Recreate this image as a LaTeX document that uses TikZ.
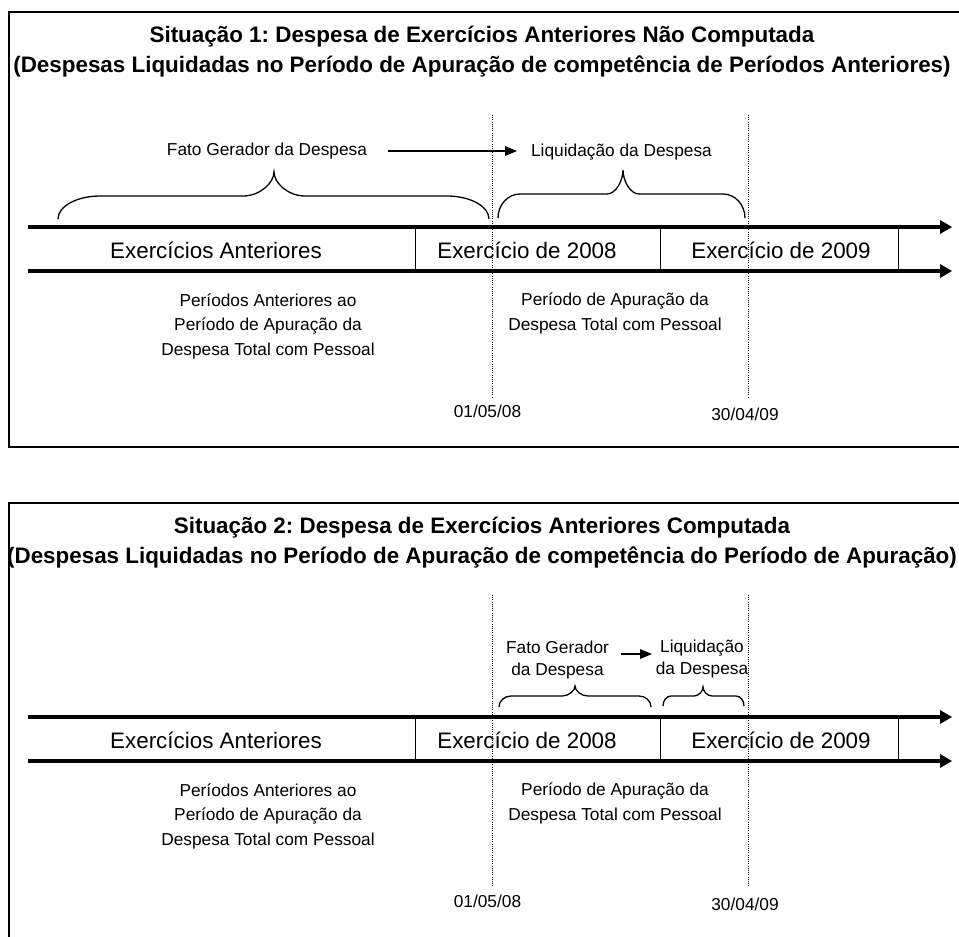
\documentclass[tikz,border=0pt]{standalone}
\usepackage{fontspec}
\setmainfont{Liberation Sans}
\usetikzlibrary{arrows.meta}
\frenchspacing
\newcommand{\cbrace}[8]{% xL xR xm ybottom yflat ytip rend rtip
  \draw[brace] (#1,#4) .. controls (#1,{#4-0.552*(#4-#5)}) and ({#1+0.448*#7},#5) .. ({#1+#7},#5)
    -- ({#3-#8},#5) .. controls ({#3-0.448*#8},#5) and (#3,{#6+0.448*(#5-#6)}) .. (#3,#6)
    .. controls (#3,{#6+0.448*(#5-#6)}) and ({#3+0.448*#8},#5) .. ({#3+#8},#5)
    -- ({#2-#7},#5) .. controls ({#2-0.448*#7},#5) and (#2,{#4-0.552*(#4-#5)}) .. (#2,#4);}
\begin{document}
\frenchspacing
\begin{tikzpicture}[x=1pt,y=-1pt,
  box/.style={line width=2pt},
  tline/.style={line width=4.5pt,-{Triangle[length=12pt,width=14pt,line width=0pt]}},
  sep/.style={line width=1pt},
  guide/.style={line width=0.8pt,dash pattern=on 1pt off 1.2pt},
  brace/.style={line width=1.3pt},
  flow/.style={line width=2pt,-{Triangle[length=12pt,width=10pt,line width=0pt]}},
  title/.style={font=\fontsize{22.4}{30}\selectfont\bfseries\frenchspacing,align=center,inner sep=0pt,anchor=base},
  big/.style={font=\fontsize{22.4}{27}\selectfont,inner sep=0pt,anchor=base},
  small/.style={font=\fontsize{17.3}{24.5}\selectfont,inner sep=0pt,align=center,anchor=base},
  smallb/.style={font=\fontsize{17.3}{22}\selectfont,inner sep=0pt,align=center,anchor=base},
]
\useasboundingbox (0,0) rectangle (959,937);
\fill[white] (0,0) rectangle (959,937);

% ---------------- Box 1 ----------------
\draw[box] (959,12) -- (9,12) -- (9,447) -- (959,447);
\node[title] (title1) at (482,72) {Situação 1: Despesa de Exercícios Anteriores Não Computada\\(Despesas Liquidadas no Período de Apuração de competência de Períodos Anteriores)};

\coordinate (t1a) at (28,227);  \coordinate (t1b) at (952,227);
\coordinate (t1c) at (28,271);  \coordinate (t1d) at (952,271);
\draw[tline] (t1a) -- (t1b);
\draw[tline] (t1c) -- (t1d);
\draw[sep] (415,227) -- (415,271);
\draw[sep] (660,227) -- (660,271);
\draw[sep] (898,227) -- (898,271);
\node[big] (ea1) at (216,258) {Exercícios Anteriores};
\node[big] (e81) at (527,258) {Exercício de 2008};
\node[big] (e91) at (781,258) {Exercício de 2009};

\node[small] (fg1) at (267,155) {Fato Gerador da Despesa};
\node[small] (lq1) at (621.5,156) {Liquidação da Despesa};
\coordinate (a1s) at (388,151); \coordinate (a1e) at (517,151);
\draw[flow] (a1s) -- (a1e);
\cbrace{58}{489}{274}{219}{196}{172}{42}{31}
\cbrace{498}{745}{623}{218}{194}{170}{22}{16}

\node[small] (pa1) at (268,355) {Períodos Anteriores ao\\Período de Apuração da\\Despesa Total com Pessoal};
\node[small] (pp1) at (615,330) {Período de Apuração da\\Despesa Total com Pessoal};

\coordinate (g1a) at (492,115); \coordinate (g1b) at (492,397);
\coordinate (g1c) at (748,115); \coordinate (g1d) at (748,397);
\draw[guide] (g1a) -- (g1b);
\draw[guide] (g1c) -- (g1d);
\node[small] (d1a) at (487.5,417) {01/05/08};
\node[small] (d1b) at (745,420) {30/04/09};

% ---------------- Box 2 ----------------
\draw[box] (959,503) -- (9,503) -- (9,937);
\node[title] (title2) at (482,563) {Situação 2: Despesa de Exercícios Anteriores Computada\\(Despesas Liquidadas no Período de Apuração de competência do Período de Apuração)};

\coordinate (t2a) at (28,717);  \coordinate (t2b) at (952,717);
\coordinate (t2c) at (28,761);  \coordinate (t2d) at (952,761);
\draw[tline] (t2a) -- (t2b);
\draw[tline] (t2c) -- (t2d);
\draw[sep] (415,717) -- (415,761);
\draw[sep] (660,717) -- (660,761);
\draw[sep] (898,717) -- (898,761);
\node[big] (ea2) at (216,748) {Exercícios Anteriores};
\node[big] (e82) at (527,748) {Exercício de 2008};
\node[big] (e92) at (781,748) {Exercício de 2009};

\node[smallb] (fg2) at (557.5,675) {Fato Gerador\\da Despesa};
\node[smallb] (lq2) at (702,674) {Liquidação\\da Despesa};
\coordinate (a2s) at (621,654); \coordinate (a2e) at (652,654);
\draw[flow] (a2s) -- (a2e);
\cbrace{499}{651}{575}{707}{696}{686}{12}{13}
\cbrace{663}{744}{703}{706}{696}{687}{8}{9}

\node[small] (pa2) at (268,845) {Períodos Anteriores ao\\Período de Apuração da\\Despesa Total com Pessoal};
\node[small] (pp2) at (615,820) {Período de Apuração da\\Despesa Total com Pessoal};

\coordinate (g2a) at (492,595); \coordinate (g2b) at (492,887);
\coordinate (g2c) at (748,595); \coordinate (g2d) at (748,887);
\draw[guide] (g2a) -- (g2b);
\draw[guide] (g2c) -- (g2d);
\node[small] (d2a) at (487.5,907) {01/05/08};
\node[small] (d2b) at (745,910) {30/04/09};
\end{tikzpicture}
\end{document}
